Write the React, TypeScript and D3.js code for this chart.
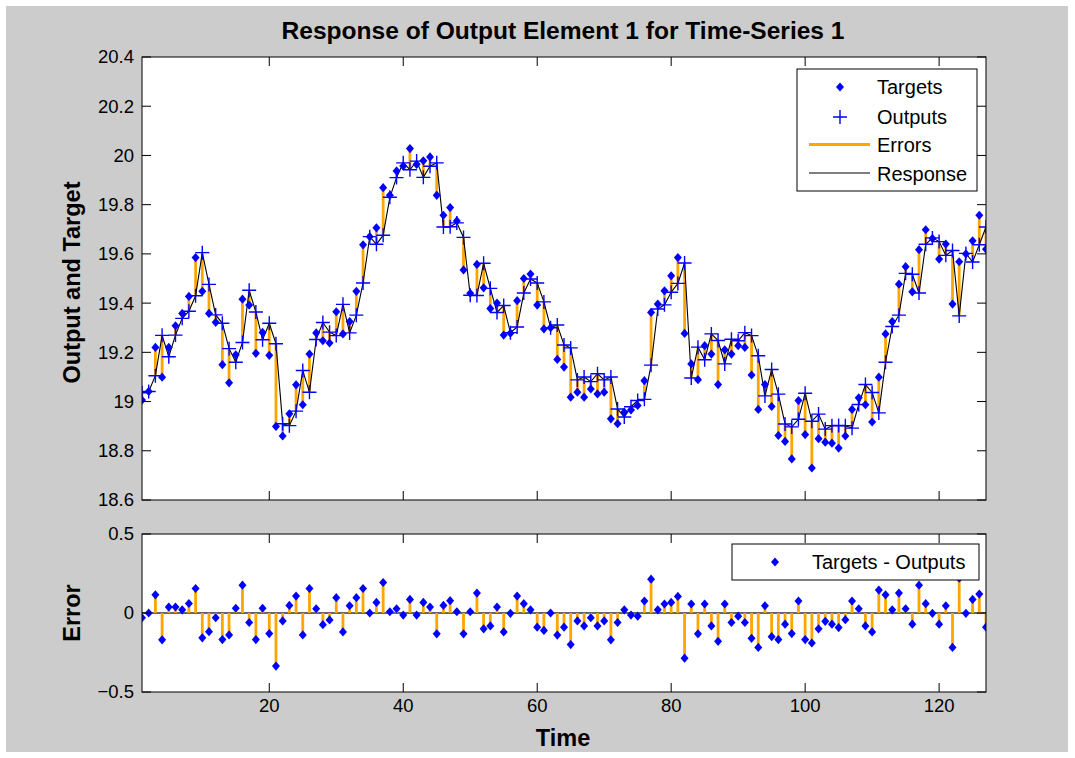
import React from "react";
import * as d3 from "d3";

const targets: number[] = [
  19.006, 19.041, 19.22, 19.099, 19.22, 19.308, 19.358, 19.427, 19.585, 19.448,
  19.358, 19.322, 19.15, 19.076, 19.19, 19.416, 19.392, 19.196, 19.281, 19.188,
  18.899, 18.86, 18.95, 19.068, 18.987, 19.193, 19.279, 19.247, 19.238, 19.365,
  19.275, 19.325, 19.448, 19.637, 19.67, 19.706, 19.869, 19.838, 19.937, 19.957,
  20.028, 19.964, 19.978, 19.994, 19.838, 19.757, 19.788, 19.734, 19.535, 19.44,
  19.557, 19.462, 19.378, 19.4, 19.27, 19.278, 19.41, 19.5, 19.518, 19.392,
  19.295, 19.3, 19.171, 19.14, 19.018, 19.038, 19.018, 19.051, 19.031, 19.038,
  18.93, 18.91, 18.957, 18.966, 18.984, 19.085, 19.362, 19.396, 19.45, 19.511,
  19.585, 19.277, 19.153, 19.089, 19.227, 19.193, 19.069, 19.21, 19.193, 19.227,
  19.22, 19.108, 18.968, 19.069, 18.98, 18.862, 18.838, 18.767, 19.004, 18.866,
  18.73, 18.849, 18.835, 18.831, 18.811, 18.86, 18.968, 19.015, 18.987, 18.917,
  19.099, 19.275, 19.325, 19.477, 19.548, 19.446, 19.617, 19.698, 19.663, 19.579,
  19.64, 19.396, 19.568, 19.6, 19.653, 19.757, 19.619,
];

const outputs: number[] = [
  19.036, 19.041, 19.105, 19.269, 19.182, 19.27, 19.338, 19.367, 19.43, 19.605,
  19.476, 19.352, 19.318, 19.215, 19.16, 19.24, 19.452, 19.364, 19.251, 19.318,
  19.235, 18.91, 18.902, 18.961, 19.126, 19.038, 19.252, 19.321, 19.282, 19.268,
  19.395, 19.279, 19.351, 19.482, 19.67, 19.639, 19.676, 19.83, 19.91, 19.97,
  19.942, 19.977, 19.911, 19.956, 19.97, 19.709, 19.71, 19.726, 19.667, 19.432,
  19.431, 19.562, 19.46, 19.362, 19.39, 19.28, 19.303, 19.441, 19.498, 19.482,
  19.405, 19.3, 19.311, 19.23, 19.218, 19.088, 19.1, 19.081, 19.113, 19.088,
  19.1, 18.97, 18.937, 18.979, 19.004, 19.009, 19.148, 19.376, 19.393, 19.444,
  19.48, 19.563, 19.096, 19.221, 19.17, 19.275, 19.248, 19.153, 19.253, 19.247,
  19.28, 19.268, 19.186, 19.023, 19.13, 19.03, 18.909, 18.897, 18.928, 19.034,
  18.92, 18.949, 18.888, 18.902, 18.903, 18.902, 18.892, 18.988, 19.069, 19.037,
  18.954, 19.16, 19.305, 19.351, 19.521, 19.517, 19.441, 19.639, 19.665, 19.65,
  19.594, 19.614, 19.348, 19.602, 19.567, 19.637, 19.709,
];

const errors: number[] = [
  -0.03, 0.0, 0.115, -0.17, 0.038, 0.038, 0.02, 0.06, 0.155, -0.157,
  -0.118, -0.03, -0.168, -0.139, 0.03, 0.176, -0.06, -0.168, 0.03, -0.13,
  -0.336, -0.05, 0.048, 0.107, -0.139, 0.155, 0.027, -0.074, -0.044, 0.097,
  -0.12, 0.046, 0.097, 0.155, 0.0, 0.067, 0.193, 0.008, 0.027, -0.013,
  0.086, -0.013, 0.067, 0.038, -0.132, 0.048, 0.078, 0.008, -0.132, 0.008,
  0.126, -0.1, -0.082, 0.038, -0.12, -0.002, 0.107, 0.059, 0.02, -0.09,
  -0.11, 0.0, -0.14, -0.09, -0.2, -0.05, -0.082, -0.03, -0.082, -0.05,
  -0.17, -0.06, 0.02, -0.013, -0.02, 0.076, 0.214, 0.02, 0.057, 0.067,
  0.105, -0.286, 0.057, -0.132, 0.057, -0.082, -0.179, 0.057, -0.06, -0.02,
  -0.06, -0.16, -0.218, 0.046, -0.15, -0.168, -0.071, -0.13, 0.076, -0.168,
  -0.19, -0.1, -0.053, -0.071, -0.092, -0.042, 0.076, 0.027, -0.082, -0.12,
  0.145, 0.115, 0.02, 0.126, 0.027, -0.071, 0.176, 0.059, -0.002, -0.071,
  0.046, -0.218, 0.22, -0.002, 0.086, 0.12, -0.09,
];

const timeSteps: number[] = targets.map((_, i) => i + 1);
const xTicks: number[] = [20, 40, 60, 80, 100, 120];
const yTicksTop: number[] = [18.6, 18.8, 19, 19.2, 19.4, 19.6, 19.8, 20, 20.2, 20.4];
const yTicksErr: number[] = [-0.5, 0, 0.5];

const FONT = "'Liberation Sans', Arial, Helvetica, sans-serif";
const ORANGE = "#ffa500";
const BLUE = "#0000ff";

const diamond = (cx: number, cy: number, r = 4) =>
  `M${cx},${cy - r - 0.6}L${cx + r},${cy}L${cx},${cy + r + 0.6}L${cx - r},${cy}Z`;
const plus = (cx: number, cy: number, r = 7) =>
  `M${cx - r},${cy}H${cx + r}M${cx},${cy - r}V${cy + r}`;

export default function App() {
  const L = 142, R = 986;
  const topT = 57, topB = 500;
  const errT = 534, errB = 692;
  const x = d3.scaleLinear().domain([1, 127]).range([L, R]);
  const y = d3.scaleLinear().domain([18.6, 20.4]).range([topB, topT]);
  const ye = d3.scaleLinear().domain([-0.5, 0.5]).range([errB, errT]);
  const line = d3
    .line<number>()
    .x((_, i) => x(timeSteps[i]))
    .y((d) => y(d));
  const tickLen = 9;
  const fmt = (v: number) => d3.format("")(+v.toFixed(2));

  return (
    <svg
      width={1075}
      height={758}
      style={{ position: "absolute", left: 0, top: 0 }}
      fontFamily={FONT}
    >
      <rect x={0} y={0} width={1075} height={758} fill="#ffffff" />
      <rect x={6} y={6} width={1062} height={746} fill="#cccccc" />

      <text x={563} y={39} textAnchor="middle" fontSize={23} fontWeight="bold" fill="#000"
        textLength={563} lengthAdjust="spacingAndGlyphs">
        Response of Output Element 1 for Time-Series 1
      </text>

      {/* top axes */}
      <rect x={L} y={topT} width={R - L} height={topB - topT} fill="#fff" />
      <defs>
        <clipPath id="clipTop">
          <rect x={L} y={topT} width={R - L} height={topB - topT} />
        </clipPath>
        <clipPath id="clipErr">
          <rect x={L} y={errT} width={R - L} height={errB - errT} />
        </clipPath>
      </defs>
      <g clipPath="url(#clipTop)">
        {timeSteps.map((t, i) => (
          <line
            key={"e" + i}
            x1={x(t)}
            x2={x(t)}
            y1={y(targets[i])}
            y2={y(outputs[i])}
            stroke={ORANGE}
            strokeWidth={2.8}
          />
        ))}
        <path d={line(outputs) || ""} fill="none" stroke="#000" strokeWidth={1.1} />
        {timeSteps.map((t, i) => (
          <path key={"t" + i} d={diamond(x(t), y(targets[i]))} fill={BLUE} />
        ))}
        {timeSteps.map((t, i) => (
          <path key={"o" + i} d={plus(x(t), y(outputs[i]))} stroke={BLUE} strokeWidth={1.4} fill="none" />
        ))}
      </g>
      {xTicks.map((v) => (
        <g key={"xt" + v}>
          <line x1={x(v)} x2={x(v)} y1={topB} y2={topB - tickLen} stroke="#000" />
          <line x1={x(v)} x2={x(v)} y1={topT} y2={topT + tickLen} stroke="#000" />
        </g>
      ))}
      {yTicksTop.map((v) => (
        <g key={"yt" + v}>
          <line x1={L} x2={L + tickLen} y1={y(v)} y2={y(v)} stroke="#000" />
          <line x1={R} x2={R - tickLen} y1={y(v)} y2={y(v)} stroke="#000" />
          <text x={L - 8} y={y(v)} dy="0.35em" textAnchor="end" fontSize={18.5} fill="#000">
            {fmt(v)}
          </text>
        </g>
      ))}
      <rect x={L} y={topT} width={R - L} height={topB - topT} fill="none" stroke="#000" strokeWidth={1} />
      <text
        transform={`translate(80,${(topT + topB) / 2 + 4}) rotate(-90)`}
        textAnchor="middle"
        fontSize={23.5}
        fontWeight="bold"
        fill="#000"
      >
        Output and Target
      </text>

      {/* top legend */}
      <g>
        <rect x={797} y={69} width={180} height={122} fill="#fff" stroke="#000" strokeWidth={1} />
        <path d={diamond(840, 87)} fill={BLUE} />
        <text x={877} y={87} dy="0.35em" fontSize={20} fill="#000">Targets</text>
        <path d={plus(840, 117)} stroke={BLUE} strokeWidth={1.4} fill="none" />
        <text x={877} y={117} dy="0.35em" fontSize={20} fill="#000">Outputs</text>
        <line x1={809} x2={870} y1={144.5} y2={144.5} stroke={ORANGE} strokeWidth={2.8} />
        <text x={877} y={145} dy="0.35em" fontSize={20} fill="#000">Errors</text>
        <line x1={809} x2={870} y1={173} y2={173} stroke="#000" strokeWidth={1.1} />
        <text x={877} y={174} dy="0.35em" fontSize={20} fill="#000">Response</text>
      </g>

      {/* error axes */}
      <rect x={L} y={errT} width={R - L} height={errB - errT} fill="#fff" />
      <g clipPath="url(#clipErr)">
        <line x1={L} x2={R} y1={ye(0)} y2={ye(0)} stroke="#333" strokeWidth={1.5} />
        {timeSteps.map((t, i) => (
          <line
            key={"s" + i}
            x1={x(t)}
            x2={x(t)}
            y1={ye(0)}
            y2={ye(errors[i])}
            stroke={ORANGE}
            strokeWidth={2.8}
          />
        ))}
        {timeSteps.map((t, i) => (
          <path key={"d" + i} d={diamond(x(t), ye(errors[i]))} fill={BLUE} />
        ))}
      </g>
      {xTicks.map((v) => (
        <g key={"xe" + v}>
          <line x1={x(v)} x2={x(v)} y1={errB} y2={errB - tickLen} stroke="#000" />
          <line x1={x(v)} x2={x(v)} y1={errT} y2={errT + tickLen} stroke="#000" />
          <text x={x(v)} y={errB + 20} textAnchor="middle" fontSize={18.5} fill="#000">
            {v}
          </text>
        </g>
      ))}
      {yTicksErr.map((v) => (
        <g key={"ye" + v}>
          <line x1={L} x2={L + tickLen} y1={ye(v)} y2={ye(v)} stroke="#000" />
          <line x1={R} x2={R - tickLen} y1={ye(v)} y2={ye(v)} stroke="#000" />
          <text x={L - 8} y={ye(v)} dy="0.35em" textAnchor="end" fontSize={18.5} fill="#000">
            {fmt(v)}
          </text>
        </g>
      ))}
      <rect x={L} y={errT} width={R - L} height={errB - errT} fill="none" stroke="#000" strokeWidth={1} />
      <text
        transform={`translate(80,${(errT + errB) / 2}) rotate(-90)`}
        textAnchor="middle"
        fontSize={23.5}
        fontWeight="bold"
        fill="#000"
      >
        Error
      </text>
      <text x={563} y={746} textAnchor="middle" fontSize={23.5} fontWeight="bold" fill="#000">
        Time
      </text>

      {/* error legend */}
      <g>
        <rect x={732} y={544} width={247} height={36} fill="#fff" stroke="#000" strokeWidth={1} />
        <path d={diamond(775, 562)} fill={BLUE} />
        <text x={812} y={562} dy="0.35em" fontSize={20} fill="#000">Targets - Outputs</text>
      </g>
    </svg>
  );
}
